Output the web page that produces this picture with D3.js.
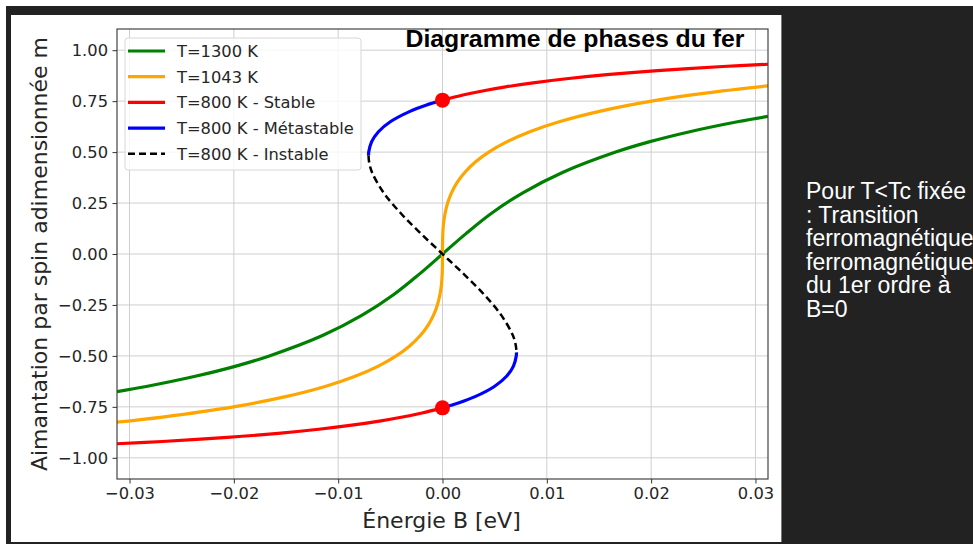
<!DOCTYPE html>
<html>
<head>
<meta charset="utf-8">
<script src="https://cdn.jsdelivr.net/npm/d3@7"></script>
<style>
    body { margin: 0; background: #fff; overflow: hidden; }
    .tick text { font-family: 'DejaVu Sans', sans-serif; font-size: 16.3px; fill: #262626; }
    .tick line { stroke: #333; }
</style>
</head>
<body>
<svg id="plate" width="973" height="544"></svg>
<script>
// ticks
var xTicks = [-0.03, -0.02, -0.01, 0.00, 0.01, 0.02, 0.03];
var yTicks = [-1.00, -0.75, -0.50, -0.25, 0.00, 0.25, 0.50, 0.75, 1.00];

// T=1300 K
var greenB = [-0.0312, -0.0284, -0.0237, -0.0198, -0.0166, -0.0115, -0.0077, -0.0047, -0.00225, 0,
    0.00225, 0.0047, 0.0077, 0.0115, 0.0166, 0.0198, 0.0237, 0.0284, 0.0312];
var greenM = [-0.675, -0.65, -0.60, -0.55, -0.50, -0.40, -0.30, -0.20, -0.10, 0,
    0.10, 0.20, 0.30, 0.40, 0.50, 0.55, 0.60, 0.65, 0.675];

// T=1043 K
var orangeB = [-0.0312, -0.02684, -0.02004, -0.01504, -0.01126, -0.00837, -0.00615, -0.00443, -0.00312, -0.00213,
    -0.00139, -0.00086, -0.00049, -0.00025, -0.0001, -0.00003, -0.000004, 0,
    0.000004, 0.00003, 0.0001, 0.00025, 0.00049, 0.00086, 0.00139,
    0.00213, 0.00312, 0.00443, 0.00615, 0.00837, 0.01126, 0.01504, 0.02004, 0.02684, 0.0312];
var orangeM = [-0.825, -0.80, -0.75, -0.70, -0.65, -0.60, -0.55, -0.50, -0.45, -0.40,
    -0.35, -0.30, -0.25, -0.20, -0.15, -0.10, -0.05, 0,
    0.05, 0.10, 0.15, 0.20, 0.25, 0.30, 0.35,
    0.40, 0.45, 0.50, 0.55, 0.60, 0.65, 0.70, 0.75, 0.80, 0.825];

// T=800 K stable
var redUpB = [0, 0.00196, 0.00383, 0.00605, 0.00869, 0.01187, 0.01575, 0.0206, 0.02686, 0.0312];
var redUpM = [0.755, 0.78, 0.80, 0.82, 0.84, 0.86, 0.88, 0.90, 0.92, 0.931];
var redLowB = [-0.0312, -0.02686, -0.0206, -0.01575, -0.01187, -0.00869, -0.00605, -0.00383, -0.00196, 0];
var redLowM = [-0.931, -0.92, -0.90, -0.88, -0.86, -0.84, -0.82, -0.80, -0.78, -0.755];

// T=800 K metastable
var blueUpB = [-0.00709, -0.00707, -0.0068, -0.00614, -0.00497, -0.00312, -0.00159, 0];
var blueUpM = [0.4827, 0.50, 0.55, 0.60, 0.65, 0.70, 0.73, 0.755];
var blueLowB = [0, 0.00159, 0.00312, 0.00497, 0.00614, 0.0068, 0.00707, 0.00709];
var blueLowM = [-0.755, -0.73, -0.70, -0.65, -0.60, -0.55, -0.50, -0.4827];

// T=800 K unstable
var dashB = [-0.00709, -0.00703, -0.00675, -0.00563, -0.0040, -0.00207, 0, 0.00207, 0.0040, 0.00563, 0.00675, 0.00703, 0.00709];
var dashM = [0.4827, 0.45, 0.40, 0.30, 0.20, 0.10, 0, -0.10, -0.20, -0.30, -0.40, -0.45, -0.4827];

// B=0 points
var dotB = [0, 0];
var dotM = [0.755, -0.755];

var legendLabels = ['T=1300 K', 'T=1043 K', 'T=800 K - Stable', 'T=800 K - Métastable', 'T=800 K - Instable'];
var noteLines = ['Pour T<Tc fixée', ': Transition', 'ferromagnétique', 'ferromagnétique', 'du 1er ordre à', 'B=0'];

function zip(bs, ms) {
    return bs.map((b, i) => ({b: b, m: ms[i]}));
}

var svg = d3.select('#plate');

// dark frame of the screenshot
svg.append('rect').attr('x', 6).attr('y', 6).attr('width', 967).attr('height', 538).attr('fill', '#222');
svg.append('rect').attr('x', 11).attr('y', 15).attr('width', 770).attr('height', 527).attr('fill', '#fff');
svg.append('line').attr('x1', 781.5).attr('x2', 781.5).attr('y1', 15).attr('y2', 542)
    .attr('stroke', '#777').attr('stroke-width', 1);

var margin = {top: 29, right: 205, bottom: 65, left: 117};
var width = 973 - margin.left - margin.right;
var height = 544 - margin.top - margin.bottom;

var x = d3.scaleLinear().domain([-0.0312, 0.0312]).range([0, width]);
var y = d3.scaleLinear().domain([-1.104, 1.104]).range([height, 0]);

var g = svg.append('g')
    .attr('transform', 'translate(' + margin.left + ',' + margin.top + ')');

// grid
g.append('g').selectAll('line').data(xTicks).enter().append('line')
    .attr('x1', (d) => x(d)).attr('x2', (d) => x(d))
    .attr('y1', 0).attr('y2', height)
    .attr('stroke', '#cfcfcf').attr('stroke-width', 1);
g.append('g').selectAll('line').data(yTicks).enter().append('line')
    .attr('y1', (d) => y(d)).attr('y2', (d) => y(d))
    .attr('x1', 0).attr('x2', width)
    .attr('stroke', '#cfcfcf').attr('stroke-width', 1);

// curves
var line = d3.line()
    .x((d) => x(d.b))
    .y((d) => y(d.m))
    .curve(d3.curveCatmullRom.alpha(0.5));

g.append('clipPath').attr('id', 'clip').append('rect')
    .attr('width', width).attr('height', height);

var curves = g.append('g').attr('clip-path', 'url(#clip)');

[
    {pts: zip(greenB, greenM), color: 'green'},
    {pts: zip(orangeB, orangeM), color: 'orange'},
    {pts: zip(redUpB, redUpM), color: 'red'},
    {pts: zip(redLowB, redLowM), color: 'red'},
    {pts: zip(blueUpB, blueUpM), color: 'blue'},
    {pts: zip(blueLowB, blueLowM), color: 'blue'}
].forEach((s) => {
    curves.append('path')
        .datum(s.pts)
        .attr('fill', 'none')
        .attr('stroke', s.color)
        .attr('stroke-width', 3.2)
        .attr('d', line);
});

curves.append('path')
    .datum(zip(dashB, dashM))
    .attr('fill', 'none')
    .attr('stroke', '#000')
    .attr('stroke-width', 2.5)
    .attr('stroke-dasharray', '7,4')
    .attr('d', line);

curves.selectAll('circle').data(zip(dotB, dotM)).enter().append('circle')
    .attr('cx', (d) => x(d.b))
    .attr('cy', (d) => y(d.m))
    .attr('r', 7.5)
    .attr('fill', 'red');

// frame
g.append('rect').attr('width', width).attr('height', height)
    .attr('fill', 'none').attr('stroke', '#444').attr('stroke-width', 1.2);

// axes
var fmt = d3.format('.2f');
g.append('g')
    .attr('transform', 'translate(0,' + height + ')')
    .call(d3.axisBottom(x).tickValues(xTicks).tickFormat(fmt).tickSize(4.5).tickPadding(4).tickSizeOuter(0))
    .call((a) => a.select('.domain').remove());
g.append('g')
    .call(d3.axisLeft(y).tickValues(yTicks).tickFormat(fmt).tickSize(4.5).tickPadding(4.5).tickSizeOuter(0))
    .call((a) => a.select('.domain').remove());

// axis labels
svg.append('text')
    .attr('x', 441.5).attr('y', 528)
    .attr('text-anchor', 'middle')
    .style('font-family', 'DejaVu Sans, sans-serif').style('font-size', '22px').style('fill', '#262626')
    .text('Énergie B [eV]');
svg.append('text')
    .attr('transform', 'translate(47,254) rotate(-90)')
    .attr('text-anchor', 'middle')
    .style('font-family', 'DejaVu Sans, sans-serif').style('font-size', '22px').style('fill', '#262626')
    .text('Aimantation par spin adimensionnée m');

// title
svg.append('text')
    .attr('x', 575).attr('y', 47)
    .attr('text-anchor', 'middle')
    .style('font-family', 'Liberation Sans, Arial, sans-serif').style('font-size', '24.8px')
    .style('font-weight', 'bold').style('fill', '#000')
    .text('Diagramme de phases du fer');

// legend
var legend = svg.append('g');
legend.append('rect')
    .attr('x', 125).attr('y', 38).attr('width', 236).attr('height', 132).attr('rx', 3)
    .attr('fill', '#fff').attr('fill-opacity', 0.8).attr('stroke', '#d6d6d6');
var legendStyles = [
    {color: 'green', dash: null, w: 3.2},
    {color: 'orange', dash: null, w: 3.2},
    {color: 'red', dash: null, w: 3.2},
    {color: 'blue', dash: null, w: 3.2},
    {color: '#000', dash: '7,4', w: 2.5}
];
legendLabels.forEach((label, i) => {
    var ly = 51 + i * 25.7;
    legend.append('line')
        .attr('x1', 128).attr('x2', 165).attr('y1', ly).attr('y2', ly)
        .attr('stroke', legendStyles[i].color).attr('stroke-width', legendStyles[i].w)
        .attr('stroke-dasharray', legendStyles[i].dash);
    legend.append('text')
        .attr('x', 177).attr('y', ly + 6)
        .style('font-family', 'DejaVu Sans, sans-serif').style('font-size', '16.3px').style('fill', '#262626')
        .text(label);
});

// side note
var note = svg.append('text')
    .style('font-family', 'Liberation Sans, Arial, sans-serif').style('font-size', '23px').style('fill', '#fff');
noteLines.forEach((t, i) => {
    note.append('tspan').attr('x', 806).attr('y', 199 + i * 23.5).text(t);
});
</script>
</body>
</html>
